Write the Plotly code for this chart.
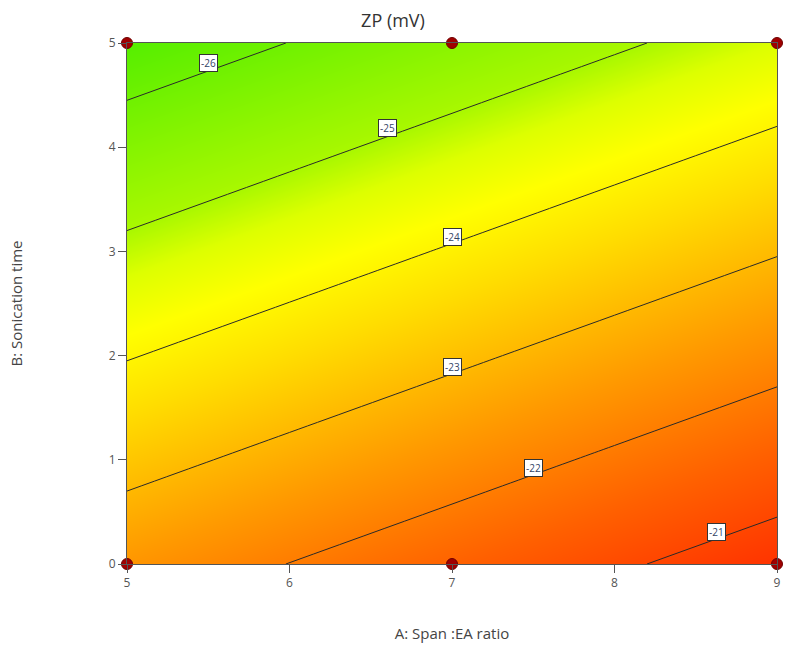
import plotly.graph_objects as go

# Factor levels
span_ea = [5, 6, 7, 8, 9]
sonication = [0, 1, 2, 3, 4, 5]

# ZP (mV) estimated at grid points (rows: sonication, cols: span:EA)
zp = [
    [-22.44, -21.99, -21.54, -21.09, -20.64],
    [-23.24, -22.79, -22.34, -21.89, -21.44],
    [-24.04, -23.59, -23.14, -22.69, -22.24],
    [-24.84, -24.39, -23.94, -23.49, -23.04],
    [-25.64, -25.19, -24.74, -24.29, -23.84],
    [-26.44, -25.99, -25.54, -25.09, -24.64],
]

# Design points
design_a = [5, 7, 9, 5, 7, 9]
design_b = [0, 0, 0, 5, 5, 5]

# Contour label positions
label_text = ["-26", "-25", "-24", "-23", "-22", "-21"]
label_a = [5.50, 6.60, 7.00, 7.00, 7.50, 8.63]
label_b = [4.81, 4.18, 3.14, 1.89, 0.92, 0.31]

colorscale = [
    [0.0, "#55ee00"],
    [0.25, "#aaf800"],
    [0.31, "#ddff00"],
    [0.386, "#ffff00"],
    [0.49, "#ffdd00"],
    [0.68, "#ff9900"],
    [0.85, "#ff6000"],
    [1.0, "#ff3300"],
]

fig = go.Figure()
fig.add_trace(go.Contour(
    x=span_ea, y=sonication, z=zp,
    colorscale=colorscale, zmin=-26.44, zmax=-20.64,
    contours=dict(start=-26, end=-21, size=1, coloring="heatmap", showlabels=False),
    line=dict(color="#2a2a2a", width=1),
    showscale=False, hoverinfo="skip",
))
fig.add_trace(go.Scatter(
    x=design_a, y=design_b, mode="markers",
    marker=dict(color="#a00000", size=11, line=dict(color="#700000", width=1)),
    cliponaxis=False, showlegend=False, hoverinfo="skip",
))

for t, a, b in zip(label_text, label_a, label_b):
    fig.add_annotation(
        x=a, y=b, text=t, showarrow=False,
        font=dict(family="Open Sans", size=10, color="#334466"),
        bgcolor="white", bordercolor="#333333", borderwidth=1, borderpad=1,
    )

fig.update_layout(
    width=786, height=645,
    margin=dict(l=127, r=5, t=43, b=80),
    paper_bgcolor="white", plot_bgcolor="white",
    font=dict(family="Open Sans", color="#444444"),
    title=dict(text="ZP (mV)", x=0.5, xanchor="center", y=0.968, yanchor="middle",
               font=dict(size=18, color="#333333")),
    showlegend=False,
)
fig.update_xaxes(
    range=[5, 9], tickvals=[5, 6, 7, 8, 9], ticks="outside", ticklen=8,
    tickcolor="#555555", tickfont=dict(size=12, color="#555555"),
    showline=True, linecolor="#555555", linewidth=1, mirror=True,
    showgrid=False, zeroline=False,
    title=dict(text="A: Span :EA ratio", font=dict(size=15, color="#444444"), standoff=38),
)
fig.update_yaxes(
    range=[0, 5], tickvals=[0, 1, 2, 3, 4, 5], ticks="outside", ticklen=8,
    tickcolor="#555555", tickfont=dict(size=12, color="#555555"),
    showline=True, linecolor="#555555", linewidth=1, mirror=True,
    showgrid=False, zeroline=False,
    title=dict(text="B: Sonication time", font=dict(size=15, color="#444444"), standoff=82),
)

fig.write_html("out.html")
